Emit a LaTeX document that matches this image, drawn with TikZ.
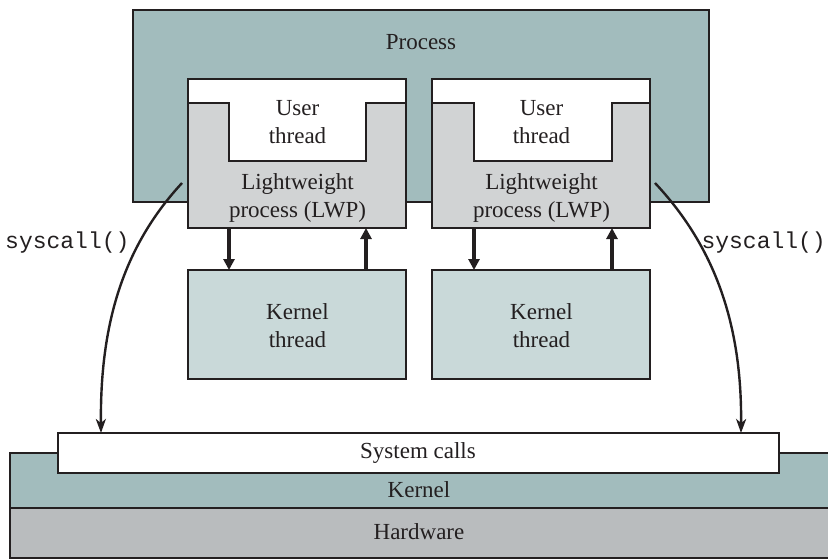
\documentclass[tikz,border=0pt]{standalone}
\usepackage{fontspec}
\setmainfont{Liberation Serif}
\newfontfamily\codefont{Liberation Mono}
\usetikzlibrary{arrows.meta}
\definecolor{teal1}{HTML}{A2BCBD}
\definecolor{teal2}{HTML}{C9D9D9}
\definecolor{lwpgray}{HTML}{D1D3D4}
\definecolor{hwgray}{HTML}{B9BCBE}
\definecolor{ink}{HTML}{231F20}
\tikzset{
  box/.style={draw=ink, line width=1.5pt, inner sep=0pt, outer sep=0pt},
  lbl/.style={font=\fontsize{23}{28}\selectfont, text=ink, align=center, inner sep=0pt},
  code/.style={font=\codefont\fontsize{23}{26}\selectfont, text=ink, inner sep=0pt},
  flow/.style={draw=ink, line width=3.6pt, -{Triangle[length=11pt,width=11pt]}},
  call/.style={draw=ink, line width=2.4pt, -{Stealth[length=14pt,width=10pt,inset=4pt]}},
}
\begin{document}
\begin{tikzpicture}[x=1pt,y=-1pt]
\useasboundingbox (0,0) rectangle (828,558);
% hardware and kernel bands
\node[box, fill=hwgray, minimum width=830, minimum height=50, anchor=north west] (hw) at (10,508) {};
\node[box, fill=teal1, minimum width=830, minimum height=55, anchor=north west] (kern) at (10,453) {};
\node[lbl] (kernt) at (419,490) {Kernel};
\node[lbl] (hwt) at (419,532) {Hardware};
\node[box, fill=white, minimum width=721, minimum height=40, anchor=north west] (sys) at (58,433) {};
\node[lbl] (syst) at (418,453) {System calls};
% process
\node[box, fill=teal1, minimum width=576, minimum height=192, anchor=north west] (proc) at (133,10) {};
\node[lbl] (proct) at (421,42) {Process};
% LWP left
\node[box, fill=white, minimum width=218, minimum height=149, anchor=north west] (lwpL) at (188,79) {};
\fill[lwpgray] (188.6,103) -- (229,103) -- (229,161) -- (366,161) -- (366,103) -- (405.4,103) -- (405.4,227.4) -- (188.6,227.4) -- cycle;
\draw[ink, line width=1.5pt] (lwpL.west |- 0,103) -- (229,103) -- (229,161) -- (366,161) -- (366,103) -- (lwpL.east |- 0,103);
\draw[box] (lwpL.north west) rectangle (lwpL.south east);
\node[lbl] (utL) at (297.5,122) {User\\thread};
\node[lbl] (lwL) at (297.5,198) {Lightweight\\process (LWP)};
% LWP right
\node[box, fill=white, minimum width=218, minimum height=149, anchor=north west] (lwpR) at (432,79) {};
\fill[lwpgray] (432.6,103) -- (474,103) -- (474,161) -- (612,161) -- (612,103) -- (649.4,103) -- (649.4,227.4) -- (432.6,227.4) -- cycle;
\draw[ink, line width=1.5pt] (lwpR.west |- 0,103) -- (474,103) -- (474,161) -- (612,161) -- (612,103) -- (lwpR.east |- 0,103);
\draw[box] (lwpR.north west) rectangle (lwpR.south east);
\node[lbl] (utR) at (541.5,122) {User\\thread};
\node[lbl] (lwR) at (541.5,198) {Lightweight\\process (LWP)};
% kernel threads
\node[box, fill=teal2, minimum width=218, minimum height=109, anchor=north west] (ktL) at (188,270) {};
\node[lbl] (ktLt) at (297.5,326) {Kernel\\thread};
\node[box, fill=teal2, minimum width=218, minimum height=109, anchor=north west] (ktR) at (432,270) {};
\node[lbl] (ktRt) at (541.5,326) {Kernel\\thread};
% vertical arrows
\draw[flow] ([xshift=-68pt]lwpL.south) -- ([xshift=-68pt]ktL.north);
\draw[flow] ([xshift=69pt]ktL.north) -- ([xshift=69pt]lwpL.south);
\draw[flow] ([xshift=-67pt]lwpR.south) -- ([xshift=-67pt]ktR.north);
\draw[flow] ([xshift=71pt]ktR.north) -- ([xshift=71pt]lwpR.south);
% syscall curves
\coordinate (sL) at (182,183);
\coordinate (eL) at (101,433);
\coordinate (sR) at (655,183);
\coordinate (eR) at (741,433);
\draw[call] (sL) .. controls (120,250) and (100,330) .. (eL);
\draw[call] (sR) .. controls (718,250) and (742,330) .. (eR);
\node[code, anchor=west] (scL) at (5,243) {syscall()};
\node[code, anchor=east] (scR) at (826,243) {syscall()};
\end{tikzpicture}
\end{document}
